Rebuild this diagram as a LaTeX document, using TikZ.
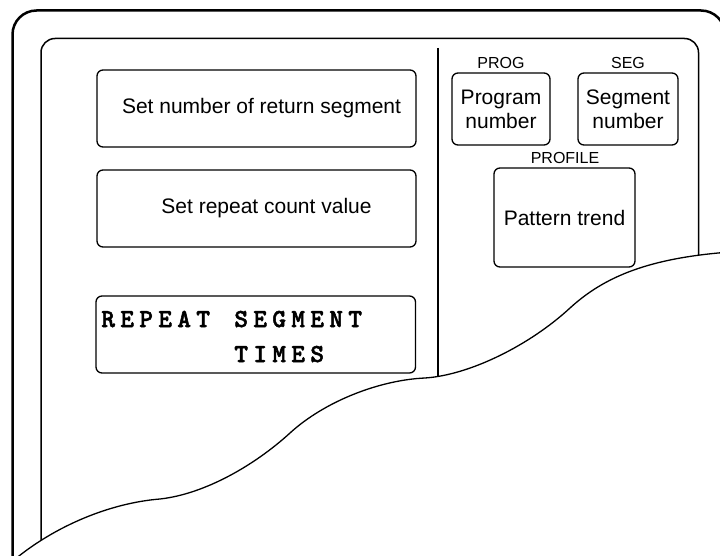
\documentclass[tikz,border=0pt]{standalone}
\usepackage{fontspec}
\setmainfont{Liberation Sans}
\newfontfamily\lcdfont[FakeBold=2]{lmmonolt10-bold.otf}
\def\lcdrun#1{\ifx#1\relax\else\makebox[19pt][c]{#1}\expandafter\lcdrun\fi}
\begin{document}
\begin{tikzpicture}[x=1pt,y=-1pt,
  box/.style={draw, line width=1.3pt, rounded corners=6pt, inner sep=0pt, font=\fontsize{21}{24}\selectfont, align=center},
  lbl/.style={font=\fontsize{16}{18}\selectfont, inner sep=0pt},
  lcd/.style={font=\lcdfont\fontsize{26}{28}\selectfont, inner sep=0pt},
  torn/.style={line width=1.3pt}]
\useasboundingbox (0,0) rectangle (720,556);
\clip (0,0) rectangle (720,556);
% frames
\draw[line width=2.5pt, rounded corners=24pt] (12.5,620) -- (12.5,10.5) -- (725,10.5) -- (725,620);
\draw[line width=1.5pt, rounded corners=14pt] (41,600) -- (41,38.5) -- (698.5,38.5) -- (698.5,320);
\draw[line width=2pt] (438,48) -- (438,420);
% left panel
\node[box, minimum width=319pt, minimum height=77pt] (ret) at (256.5,108.5) {\hspace*{10pt}Set number of return segment};
\node[box, minimum width=319pt, minimum height=77pt] (cnt) at (256.5,208.5) {\hspace*{20pt}Set repeat count value};
\node[box, minimum width=319.5pt, minimum height=77pt] (disp) at (255.75,334.5) {};
\node[lcd, anchor=base west] (rep1) at (98.5,327) {\lcdrun REPEAT~SEGMENT\relax};
\node[lcd, anchor=base west] (rep2) at (98.5,362) {\lcdrun ~~~~~~~TIMES\relax};
% right panel
\node[lbl] (proglbl) at (501,63) {PROG};
\node[lbl] (seglbl) at (628,63) {SEG};
\node[box, minimum width=98pt, minimum height=72pt] (prog) at (501,109) {Program\\number};
\node[box, minimum width=100pt, minimum height=72pt] (seg) at (628,109) {Segment\\number};
\node[lbl] (proflbl) at (565,158) {PROFILE};
\node[box, minimum width=141pt, minimum height=99pt] (prof) at (564.5,217.5) {Pattern trend};
% torn edge
\coordinate (tA) at (14,560);
\coordinate (tB) at (160,499);
\coordinate (tC) at (290,433);
\coordinate (tD) at (425,378);
\coordinate (tE) at (570,308);
\coordinate (tF) at (730,252);
\fill[white] (tA) .. controls (55,526) and (110,503) .. (tB)
  .. controls (205,494) and (255,465) .. (tC)
  .. controls (325,401) and (380,380) .. (tD)
  .. controls (470,375) and (530,345) .. (tE)
  .. controls (605,276) and (650,258) .. (tF) -- (730,600) -- (8,600) -- cycle;
\draw[torn] (tA) .. controls (55,526) and (110,503) .. (tB)
  .. controls (205,494) and (255,465) .. (tC)
  .. controls (325,401) and (380,380) .. (tD)
  .. controls (470,375) and (530,345) .. (tE)
  .. controls (605,276) and (650,258) .. (tF);
\end{tikzpicture}
\end{document}
